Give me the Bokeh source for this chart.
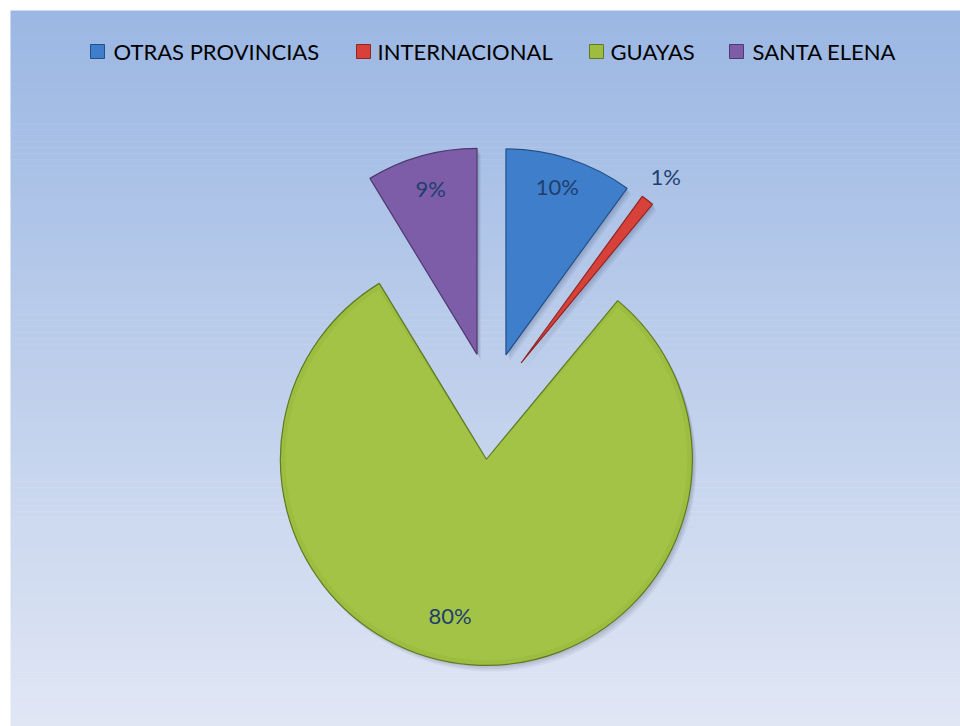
import math
from bokeh.plotting import figure
from bokeh.models import Range1d
from bokeh.core.properties import value
from bokeh.embed import file_html
from bokeh.resources import INLINE

# ---- data ----
categories = ["OTRAS PROVINCIAS", "INTERNACIONAL", "GUAYAS", "SANTA ELENA"]
shares = [10.0, 1.0, 80.3, 8.7]
pct_labels = ["10%", "1%", "80%", "9%"]

# ---- styles ----
colors = ["#3f7ecb", "#d8413a", "#9cbd3f", "#7d5ca8"]
edge_colors = ["#24508a", "#8e2722", "#5f7a22", "#4f3a70"]
legend_text_x = [113, 377, 610, 752]
legend_marker_x = [97, 363, 596, 736]

W, H = 960, 726
p = figure(width=W, height=H, x_range=Range1d(0, W), y_range=Range1d(0, H),
           output_backend="svg", toolbar_location=None, min_border=0)
p.axis.visible = False
p.grid.visible = False
p.outline_line_color = None
p.background_fill_color = "white"
p.border_fill_color = "white"

# background gradient strips (styling only), chart area starts 10px in
top = (155, 183, 227)
bot = (224, 230, 244)
n = 120
area_top = H - 10
bottoms, tops, cols = [], [], []
for i in range(n):
    t = i / (n - 1)
    c = tuple(int(round(bot[k] + (top[k] - bot[k]) * t)) for k in range(3))
    bottoms.append(area_top * i / n)
    tops.append(min(area_top, area_top * (i + 1) / n + 0.5))
    cols.append("#%02x%02x%02x" % c)
p.quad(left=10, right=W, bottom=bottoms, top=tops, fill_color=cols, line_color=None)

# ---- pie geometry ----
cx, cy = 490, 324
R = 206
explode = [50, 50, 57, 50]
label_r = [176, 236, 160, 172]
label_rot = [-1, 0, 9, 0]

total = sum(shares)
cum = 0.0
xs, ys, starts, ends = [], [], [], []
lx, ly = [], []
for i, s in enumerate(shares):
    a0 = cum / total * 360.0
    a1 = (cum + s) / total * 360.0
    cum += s
    bis = math.radians((a0 + a1) / 2)
    ox = cx + explode[i] * math.sin(bis)
    oy = cy + explode[i] * math.cos(bis)
    xs.append(ox)
    ys.append(oy)
    starts.append(math.radians(90 - a1))
    ends.append(math.radians(90 - a0))
    lb = math.radians((a0 + a1) / 2 + label_rot[i])
    lx.append(ox + label_r[i] * math.sin(lb))
    ly.append(oy + label_r[i] * math.cos(lb))

# soft shadow
for dx, dy, al in [(4, -6, 0.06), (3, -4, 0.07), (2, -2, 0.08)]:
    p.wedge(x=[x + dx for x in xs], y=[y + dy for y in ys], radius=R,
            start_angle=starts, end_angle=ends, fill_color="#1a2a4a",
            fill_alpha=al, line_color=None)

p.wedge(x=xs, y=ys, radius=R, start_angle=starts, end_angle=ends,
        fill_color=colors, line_color=edge_colors, line_width=1.2)

# subtle lighter highlight on the green slice
gi = 2
p.wedge(x=[xs[gi]], y=[ys[gi]], radius=R - 5, start_angle=[starts[gi] + 0.02],
        end_angle=[ends[gi] - 0.02], fill_color="#b3d657", fill_alpha=0.25, line_color=None)

p.text(x=lx, y=ly, text=pct_labels, text_align="center", text_baseline="middle",
       text_font=value("Lato"), text_font_size="22px", text_color="#1f3f6e")

# ---- legend ----
ly0 = H - 51
p.rect(x=legend_marker_x, y=[ly0] * 4, width=14, height=14, fill_color=colors,
       line_color=edge_colors, line_width=1)
p.text(x=legend_text_x, y=[ly0] * 4, text=categories, text_align="left",
       text_baseline="middle", text_font=value("Lato"), text_font_size="22px",
       text_color="#000000")

open("out.html", "w").write(file_html(p, INLINE))
